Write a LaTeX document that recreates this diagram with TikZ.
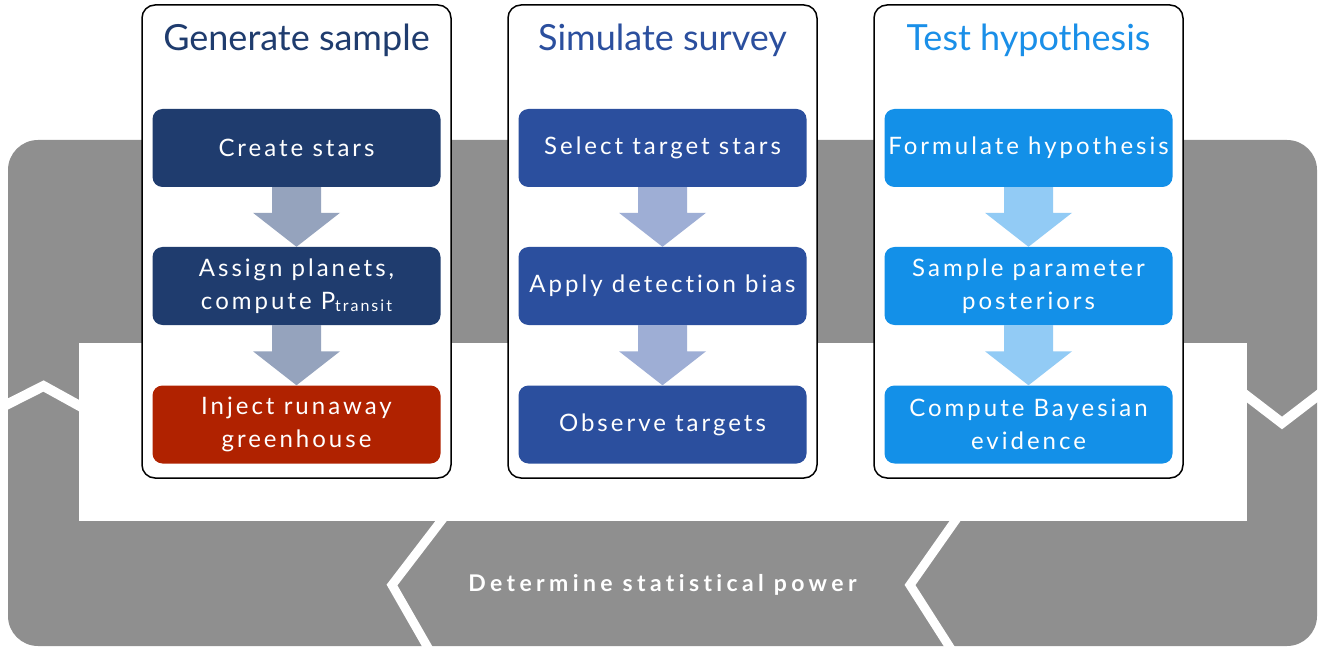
\documentclass[tikz,border=0pt]{standalone}
\usepackage{fontspec}
\setmainfont{Lato}
\newfontfamily\stepfont[LetterSpace=12.5,Ligatures=NoCommon]{Lato}
\newfontfamily\powerfont[LetterSpace=19,Ligatures=NoCommon]{Lato}
\usetikzlibrary{calc}
\definecolor{loopgray}{HTML}{8F8F8F}
\definecolor{navy}{HTML}{1F3C6E}
\definecolor{navyarr}{HTML}{95A3BD}
\definecolor{midblue}{HTML}{2B4F9E}
\definecolor{midarr}{HTML}{9EAED5}
\definecolor{skyblue}{HTML}{1390E8}
\definecolor{skyarr}{HTML}{92CBF5}
\definecolor{rust}{HTML}{B02200}
\definecolor{titlesky}{HTML}{1A8FE8}
\begin{document}
\begin{tikzpicture}[x=1pt,y=-1pt,
  panel/.style={draw=black, line width=1.5pt, fill=white, rounded corners=13pt,
    minimum width=309pt, minimum height=473pt, inner sep=0pt},
  paneltitle/.style={anchor=base, font=\fontsize{36}{40}\selectfont},
  stepbox/.style={rounded corners=10pt, minimum width=288pt, minimum height=78pt,
    inner sep=0pt, text=white, align=center,
    font=\stepfont\fontsize{24}{33}\selectfont},
  stripe/.style={white, line width=#1, line join=miter},
  flowarrow/.style={fill=#1},
]
\useasboundingbox (0,0) rectangle (1318,647);
% grey loop
\fill[loopgray, rounded corners=30pt] (8,140) rectangle (1317,646);
\draw[stripe=10pt] (0,408) -- (43.5,386) -- (87,410);
\draw[stripe=10pt] (1239,390) -- (1282,423) -- (1325,390);
\draw[stripe=9pt] (448.7,511) -- (392,585) -- (432.7,656);
\draw[stripe=9pt] (962,511) -- (910,585) -- (955.4,656);
\fill[white] (79,343) rectangle (1247,521);
\node[text=white, font=\powerfont\bfseries\fontsize{23}{28}\selectfont] (power) at (662.5,585) {Determine statistical power};

% panels
\node[panel] (p1) at (296.5,241.5) {};
\node[panel] (p2) at (662.5,241.5) {};
\node[panel] (p3) at (1028.5,241.5) {};
\node[paneltitle, text=navy] (t1) at (296.5,51) {Generate sample};
\node[paneltitle, text=midblue] (t2) at (662.5,51) {Simulate survey};
\node[paneltitle, text=titlesky] (t3) at (1028.5,51) {Test hypothesis};

% column 1
\node[stepbox, fill=navy] (a1) at (296.5,148) {Create stars};
\node[stepbox, fill=navy] (a2) at (296.5,286) {Assign planets,\\compute P\raisebox{-2pt}{\fontsize{16}{16}\selectfont transit}};
\node[stepbox, fill=rust] (a3) at (296.5,424.5) {Inject runaway\\greenhouse};
% column 2
\node[stepbox, fill=midblue] (b1) at (662.5,148) {Select target stars};
\node[stepbox, fill=midblue] (b2) at (662.5,286) {Apply detection bias};
\node[stepbox, fill=midblue] (b3) at (662.5,424.5) {Observe targets};
% column 3
\node[stepbox, fill=skyblue] (c1) at (1028.5,148) {Formulate hypothesis};
\node[stepbox, fill=skyblue] (c2) at (1028.5,286) {Sample parameter\\posteriors};
\node[stepbox, fill=skyblue] (c3) at (1028.5,424.5) {Compute Bayesian\\evidence};

% block arrows
\foreach \u/\v/\c in {a1/a2/navyarr, a2/a3/navyarr, b1/b2/midarr, b2/b3/midarr, c1/c2/skyarr, c2/c3/skyarr}{
  \fill[flowarrow=\c] ($(\u.south)+(-24.5,0)$) -- ($(\u.south)+(24.5,0)$)
    -- ($(\v.north)+(24.5,-34)$) -- ($(\v.north)+(43.5,-34)$) -- (\v.north)
    -- ($(\v.north)+(-43.5,-34)$) -- ($(\v.north)+(-24.5,-34)$) -- cycle;
}
\end{tikzpicture}
\end{document}
